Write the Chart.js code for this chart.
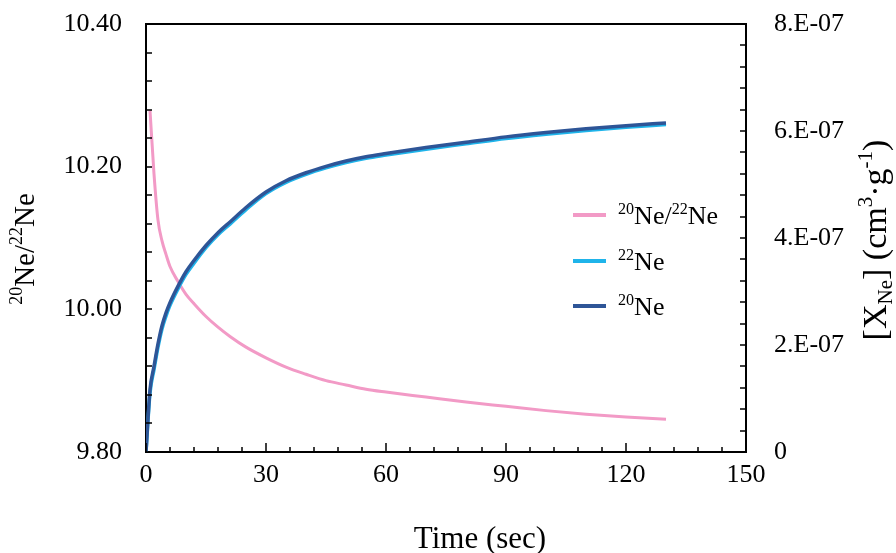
<!DOCTYPE html>
<html>
<head>
<meta charset="utf-8">
<script src="https://cdn.jsdelivr.net/npm/chart.js@4.4.1/dist/chart.umd.min.js"></script>
<style>
  html, body { margin: 0; padding: 0; background: #fff; }
</style>
</head>
<body>
<canvas id="myChart" width="896" height="553"></canvas>
<script>
// tempo (sec)
var tempi = [0, 1, 2, 3, 4, 5, 6, 8, 10, 12, 15, 18, 21, 25, 30, 35, 40, 45, 50, 55, 60, 70, 80, 90, 100, 110, 120, 130];

// 20Ne/22Ne (asse sinistro)
var rapporto = [null, 10.279, 10.190, 10.125, 10.096, 10.077, 10.060, 10.039, 10.021, 10.008, 9.990, 9.975, 9.962, 9.947,
  9.932, 9.919, 9.909, 9.900, 9.894, 9.888, 9.884, 9.877, 9.870, 9.864, 9.858, 9.853, 9.849, 9.846];

// [X_Ne] cm3/g (asse destro)
var ne22 = [0, 1.10e-7, 1.54e-7, 1.96e-7, 2.30e-7, 2.54e-7, 2.74e-7, 3.05e-7, 3.32e-7, 3.53e-7, 3.82e-7, 4.06e-7, 4.26e-7, 4.53e-7,
  4.83e-7, 5.04e-7, 5.19e-7, 5.31e-7, 5.41e-7, 5.49e-7, 5.55e-7, 5.66e-7, 5.76e-7, 5.86e-7, 5.94e-7, 6.01e-7, 6.07e-7, 6.12e-7];
var ne20 = [0, 1.16e-7, 1.60e-7, 2.02e-7, 2.36e-7, 2.60e-7, 2.79e-7, 3.10e-7, 3.37e-7, 3.58e-7, 3.86e-7, 4.10e-7, 4.30e-7, 4.57e-7,
  4.86e-7, 5.07e-7, 5.22e-7, 5.34e-7, 5.44e-7, 5.52e-7, 5.58e-7, 5.69e-7, 5.79e-7, 5.89e-7, 5.97e-7, 6.04e-7, 6.10e-7, 6.15e-7];

var etichette = ['<sup>20</sup>Ne/<sup>22</sup>Ne', '<sup>22</sup>Ne', '<sup>20</sup>Ne'];
var colori = ['#F29AC6', '#1FB4EA', '#2E5597'];

var titoloX = 'Time (sec)';
var titoloY = '<sup>20</sup>Ne/<sup>22</sup>Ne';
var titoloY1 = '[X<sub>Ne</sub>] (cm<sup>3</sup>·g<sup>-1</sup>)';

var FONT = '"Liberation Serif", "Times New Roman", serif';

function punti(valori) {
  var out = [];
  for (var i = 0; i < tempi.length; i++) {
    out.push({ x: tempi[i], y: valori[i] });
  }
  return out;
}

// testo con apici e pedici
function parti(str) {
  var out = [];
  var re = /<(sup|sub)>(.*?)<\/\1>/g;
  var last = 0, m;
  while ((m = re.exec(str)) !== null) {
    if (m.index > last) out.push({ t: str.slice(last, m.index), k: 'n' });
    out.push({ t: m[2], k: m[1] });
    last = re.lastIndex;
  }
  if (last < str.length) out.push({ t: str.slice(last), k: 'n' });
  return out;
}

function scriviRicco(ctx, str, x, y, size, centro, giu) {
  var p = parti(str);
  var piccolo = size * 0.62;
  var tot = 0;
  p.forEach(function(q) {
    ctx.font = (q.k === 'n' ? size : piccolo) + 'px ' + FONT;
    q.w = ctx.measureText(q.t).width;
    tot += q.w;
  });
  var cx = centro ? x - tot / 2 : x;
  ctx.textAlign = 'left';
  ctx.textBaseline = 'alphabetic';
  p.forEach(function(q) {
    ctx.font = (q.k === 'n' ? size : piccolo) + 'px ' + FONT;
    var dy = q.k === 'sup' ? -size * 0.4 : (q.k === 'sub' ? size * (giu || 0.22) : 0);
    ctx.fillText(q.t, cx, y + dy);
    cx += q.w;
  });
}

var cornice = {
  id: 'cornice',
  afterDatasetsDraw: function(chart) {
    var ctx = chart.ctx, a = chart.chartArea;
    var sx = chart.scales.x, sy = chart.scales.y, sy1 = chart.scales.y1;
    ctx.save();
    ctx.strokeStyle = '#000';
    ctx.lineWidth = 2;
    ctx.beginPath();
    ctx.moveTo(a.left - 1, a.top);
    ctx.lineTo(a.right + 1, a.top);
    ctx.stroke();
    ctx.lineWidth = 1.5;
    ctx.beginPath();
    for (var v = 0; v <= 150; v += 6) {
      var px = Math.round(sx.getPixelForValue(v));
      var len = v % 30 === 0 ? 9 : 5;
      ctx.moveTo(px, a.bottom);
      ctx.lineTo(px, a.bottom - len);
    }
    for (var i = 0; i <= 15; i++) {
      var py = Math.round(sy.getPixelForValue(9.8 + i * 0.04));
      ctx.moveTo(a.left, py);
      ctx.lineTo(a.left + 6, py);
    }
    for (var j = 0; j <= 20; j++) {
      var py1 = Math.round(sy1.getPixelForValue(j * 4e-8));
      ctx.moveTo(a.right, py1);
      ctx.lineTo(a.right - 6, py1);
    }
    ctx.stroke();
    ctx.restore();
  },
  afterDraw: function(chart) {
    var ctx = chart.ctx;
    ctx.save();
    ctx.fillStyle = '#000';
    // titolo asse x
    scriviRicco(ctx, titoloX, 480, 548, 31, true);
    // titolo asse sinistro
    ctx.save();
    ctx.translate(34, 249);
    ctx.rotate(-Math.PI / 2);
    scriviRicco(ctx, titoloY, 0, 0, 29, true);
    ctx.restore();
    // titolo asse destro
    ctx.save();
    ctx.translate(886, 240);
    ctx.rotate(-Math.PI / 2);
    scriviRicco(ctx, titoloY1, 0, 0, 34, true, 0.18);
    ctx.restore();
    // legenda
    var righe = [215, 261, 306];
    chart.data.datasets.forEach(function(ds, i) {
      ctx.strokeStyle = ds.borderColor;
      ctx.lineWidth = 4;
      ctx.beginPath();
      ctx.moveTo(573, righe[i]);
      ctx.lineTo(606, righe[i]);
      ctx.stroke();
      ctx.fillStyle = '#000';
      scriviRicco(ctx, ds.label, 618, righe[i] + 9, 26, false);
    });
    ctx.restore();
  }
};

function senzaMargini(s) {
  s.paddingTop = 0;
  s.paddingBottom = 0;
  s.paddingLeft = 0;
  s.paddingRight = 0;
}

var ctx = document.getElementById('myChart').getContext('2d');
var chart = new Chart(ctx, {
  type: 'line',
  data: {
    datasets: [
      {
        label: etichette[0],
        data: punti(rapporto),
        yAxisID: 'y',
        borderColor: colori[0],
        borderWidth: 3,
        pointRadius: 0,
        cubicInterpolationMode: 'monotone',
        order: 3
      },
      {
        label: etichette[1],
        data: punti(ne22),
        yAxisID: 'y1',
        borderColor: colori[1],
        borderWidth: 3.5,
        pointRadius: 0,
        cubicInterpolationMode: 'monotone',
        order: 2
      },
      {
        label: etichette[2],
        data: punti(ne20),
        yAxisID: 'y1',
        borderColor: colori[2],
        borderWidth: 3.5,
        pointRadius: 0,
        cubicInterpolationMode: 'monotone',
        order: 1
      }
    ]
  },
  options: {
    responsive: false,
    animation: false,
    layout: { padding: { top: 24, left: 0, right: 0, bottom: 0 } },
    plugins: {
      legend: { display: false },
      tooltip: { enabled: false }
    },
    scales: {
      x: {
        type: 'linear',
        min: 0,
        max: 150,
        grid: { display: false, drawTicks: false },
        border: { display: true, color: '#000', width: 2 },
        ticks: {
          stepSize: 30,
          padding: 8,
          color: '#000',
          font: { family: FONT, size: 26 }
        },
        afterFit: function(s) { s.height = 101; senzaMargini(s); }
      },
      y: {
        position: 'left',
        min: 9.8,
        max: 10.4,
        grid: { display: false, drawTicks: false },
        border: { display: true, color: '#000', width: 2 },
        ticks: {
          stepSize: 0.2,
          padding: 24,
          color: '#000',
          font: { family: FONT, size: 26 },
          callback: function(v) { return v.toFixed(2); }
        },
        afterFit: function(s) { s.width = 146; senzaMargini(s); }
      },
      y1: {
        position: 'right',
        min: 0,
        max: 8e-7,
        grid: { display: false, drawTicks: false },
        border: { display: true, color: '#000', width: 2 },
        ticks: {
          stepSize: 2e-7,
          padding: 28,
          color: '#000',
          font: { family: FONT, size: 26 },
          callback: function(v) {
            var n = Math.round(v * 1e7);
            return n === 0 ? '0' : n + '.E-07';
          }
        },
        afterFit: function(s) { s.width = 150; senzaMargini(s); }
      }
    }
  },
  plugins: [cornice]
});
</script>
</body>
</html>
